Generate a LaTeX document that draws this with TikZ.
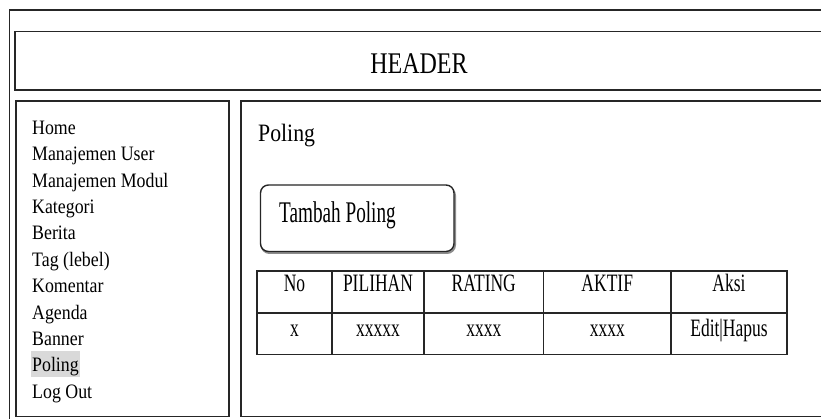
\documentclass[tikz,border=0pt]{standalone}
\usepackage{fontspec}
\setmainfont{Liberation Serif}
\newfontfamily\menufont{Liberation Serif}[FakeStretch=0.87]
\newfontfamily\headfont{Liberation Serif}[FakeStretch=0.8]
\newfontfamily\buttonfont{Liberation Serif}[FakeStretch=0.64]
\newfontfamily\cellfont{Liberation Serif}[FakeStretch=0.7]
\usetikzlibrary{positioning}

\begin{document}
\begin{tikzpicture}[x=1pt, y=-1pt,
    frame/.style={draw=black!85, line width=1.4pt},
    menu/.style={anchor=base west, inner sep=0pt, font=\menufont\fontsize{20.5}{24}\selectfont},
    cell/.style={anchor=base, inner sep=0pt, font=\cellfont\fontsize{25}{30}\selectfont}]
            \useasboundingbox (0,0) rectangle (821,419);
            \clip (0,0) rectangle (821,419);
            \fill[white] (0,0) rectangle (821,419);

            % page layout
            \draw[frame] (9.5,10) rectangle (830,430);
            \draw[frame] (15,31.5) rectangle (823,90);
            \draw[frame] (16,101) rectangle (229,416.5);
            \draw[frame] (241,101) rectangle (823,416.5);
            \node[anchor=base, inner sep=0pt, font=\headfont\fontsize{30}{36}\selectfont] (header) at (419,74) {HEADER};

            % menu
            \fill[black!15] (31,351) rectangle (79.5,377);
            \node[menu] (home) at (32,134.3) {Home};
            \node[menu] (user) at (32,160.7) {Manajemen User};
            \node[menu] (modul) at (32,187.1) {Manajemen Modul};
            \node[menu] (kategori) at (32,213.5) {Kategori};
            \node[menu] (berita) at (32,239.9) {Berita};
            \node[menu] (tag) at (32,266.3) {Tag (lebel)};
            \node[menu] (komentar) at (32,292.7) {Komentar};
            \node[menu] (agenda) at (32,319.1) {Agenda};
            \node[menu] (banner) at (32,345.5) {Banner};
            \node[menu] (poling) at (32,371.9) {Poling};
            \node[menu] (logout) at (32,398.3) {Log Out};

            % content
            \node[anchor=base west, inner sep=0pt, font=\menufont\fontsize{25}{30}\selectfont] (title) at (258,141.7) {Poling};
            \draw[black!45, line width=2pt, rounded corners=8pt] (261.5,187.5) rectangle (455,253);
            \draw[frame, fill=white, rounded corners=8pt] (260.5,185) rectangle (454,251.5);
            \node[anchor=base west, inner sep=0pt, font=\buttonfont\fontsize{30}{36}\selectfont] (tambah) at (279,223) {Tambah Poling};

            % table
            \draw[frame] (257,271) rectangle (787,354.5);
            \draw[frame] (257,313) -- (787,313);
            \draw[frame] (332,271) -- (332,354.5);
            \draw[frame] (424,271) -- (424,354.5);
            \draw[frame] (543.5,271) -- (543.5,354.5);
            \draw[frame] (671,271) -- (671,354.5);
            \node[cell] (no) at (294.5,292) {No};
            \node[cell] (pilihan) at (378,292) {PILIHAN};
            \node[cell] (rating) at (483.75,292) {RATING};
            \node[cell] (aktif) at (607.25,292) {AKTIF};
            \node[cell] (aksi) at (729,292) {Aksi};
            \node[cell] (nox) at (294.5,336) {x};
            \node[cell] (pilihanx) at (378,336) {xxxxx};
            \node[cell] (ratingx) at (483.75,336) {xxxx};
            \node[cell] (aktifx) at (607.25,336) {xxxx};
            \node[cell] (aksix) at (729,336) {Edit|Hapus};
        \end{tikzpicture}
\end{document}
